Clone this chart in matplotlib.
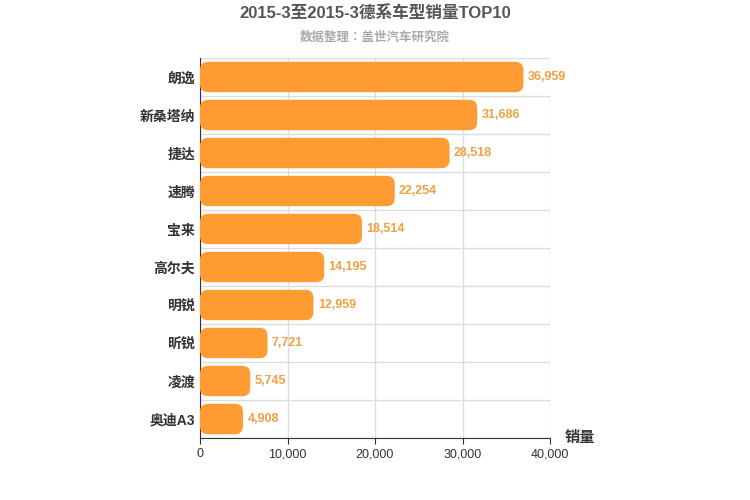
import matplotlib
matplotlib.use("Agg")
import matplotlib.pyplot as plt
from matplotlib import font_manager as fm
from matplotlib.patches import FancyBboxPatch
import numpy as np

cjk = None
for f in fm.findSystemFonts():
    if "CJK" in f and "Sans" in f:
        try:
            fm.fontManager.addfont(f)
            name = fm.FontProperties(fname=f).get_name()
            if cjk is None or name.endswith("SC"):
                cjk = name
        except Exception:
            pass
plt.rcParams['font.family'] = ['Liberation Sans', cjk or 'Noto Sans CJK SC', 'DejaVu Sans']

categories = ["朗逸", "新桑塔纳", "捷达", "速腾", "宝来", "高尔夫", "明锐", "昕锐", "凌渡", "奥迪A3"]
values = [36959, 31686, 28518, 22254, 18514, 14195, 12959, 7721, 5745, 4908]
xticks = [0, 10000, 20000, 30000, 40000]

fig = plt.figure(figsize=(7.5, 5), dpi=100)
ax = fig.add_axes([200/750, 1-438/500, 350/750, 380/500])
y = np.arange(len(categories))
bars = ax.barh(y, values, height=0.8, color="#ff9b33", zorder=3)
ax.set_xlim(0, 40000)
ax.set_ylim(len(categories) - 0.5, -0.5)
xpp = 40000/350
ypp = 10/380
for b in bars:
    b.set_visible(False)
    p = FancyBboxPatch((b.get_x(), b.get_y()), b.get_width(), b.get_height(),
                       boxstyle=f"round,pad=0,rounding_size={8*xpp}",
                       mutation_aspect=ypp/xpp, facecolor="#ff9b33",
                       edgecolor="none", zorder=3)
    ax.add_patch(p)
for yi, v in zip(y, values):
    ax.text(v + 500, yi, f"{v:,}", va="center", ha="left", fontsize=9,
            fontweight="bold", color="#f0a040")
ax.set_yticks(y)
ax.set_yticklabels(categories, fontsize=10, fontweight="bold", color="#333333")
ax.set_xticks(xticks)
ax.set_xticklabels([f"{t:,}" for t in xticks], fontsize=9, color="#333333")
ax.set_yticks(np.arange(len(categories) + 1) - 0.5, minor=True)
ax.grid(axis="x", color="#dddddd", linewidth=1, zorder=0)
ax.grid(axis="y", which="minor", color="#dddddd", linewidth=1, zorder=0)
ax.tick_params(axis="y", which="both", length=0)
ax.tick_params(axis="x", length=4, color="#333333")
for s in ["top", "right"]:
    ax.spines[s].set_visible(False)
ax.spines["left"].set_color("#333333")
ax.spines["bottom"].set_color("#333333")
fig.text(0.5, 1-14/500, "2015-3至2015-3德系车型销量TOP10", ha="center", va="center",
         fontsize=12, fontweight="bold", color="#555555")
fig.text(0.5, 1-38/500, "数据整理：盖世汽车研究院", ha="center", va="center",
         fontsize=9, fontweight="bold", color="#aaaaaa")
fig.text(580/750, 1-438/500, "销量", ha="center", va="center", fontsize=11,
         fontweight="bold", color="#333333")
fig.savefig("out.png", dpi=100)
